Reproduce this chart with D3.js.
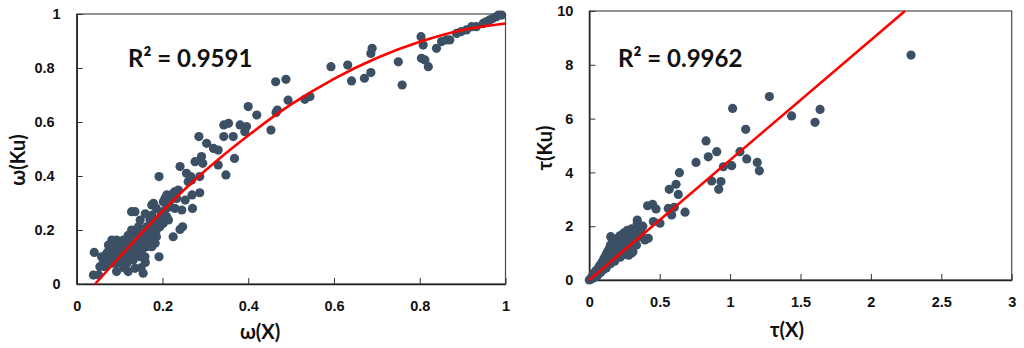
<!DOCTYPE html>
<html>
<head>
<meta charset="utf-8">
<script src="https://cdn.jsdelivr.net/npm/d3@7"></script>
<style>
  body { margin: 0; background: #fff; }
  svg { display: block; }
</style>
</head>
<body>
<div id="chart"></div>
<script>
// ω panel: scattered points (ω(X), ω(Ku))
const omegaPoints = [
  [0.041,0.117],[0.039,0.033],[0.051,0.033],[0.062,0.089],[0.058,0.101],[0.070,0.114],[0.078,0.107],
  [0.082,0.163],[0.093,0.163],[0.089,0.132],[0.097,0.138],[0.101,0.114],[0.085,0.077],[0.093,0.046],
  [0.105,0.077],[0.113,0.095],[0.117,0.151],[0.120,0.114],[0.124,0.138],[0.132,0.188],[0.128,0.200],
  [0.140,0.188],[0.144,0.212],[0.148,0.237],[0.136,0.126],[0.144,0.114],[0.148,0.101],[0.159,0.101],
  [0.155,0.040],[0.136,0.058],[0.120,0.046],[0.128,0.268],[0.136,0.268],[0.163,0.163],[0.167,0.188],
  [0.175,0.200],[0.179,0.225],[0.171,0.237],[0.163,0.212],[0.175,0.138],[0.183,0.151],[0.186,0.175],
  [0.179,0.299],[0.175,0.293],[0.192,0.398],[0.192,0.101],[0.194,0.212],[0.202,0.225],[0.210,0.249],
  [0.214,0.237],[0.202,0.305],[0.210,0.330],[0.218,0.311],[0.225,0.336],[0.218,0.286],[0.229,0.280],
  [0.237,0.348],[0.241,0.435],[0.247,0.212],[0.241,0.202],[0.253,0.311],[0.225,0.175],[0.245,0.274],
  [0.256,0.410],[0.260,0.379],[0.268,0.385],[0.266,0.398],[0.270,0.280],[0.269,0.330],[0.287,0.338],
  [0.287,0.398],[0.291,0.472],[0.294,0.447],[0.276,0.453],[0.285,0.546],[0.303,0.521],[0.319,0.502],
  [0.330,0.496],[0.330,0.441],[0.343,0.546],[0.343,0.589],[0.354,0.595],[0.365,0.546],[0.368,0.465],
  [0.348,0.404],[0.381,0.589],[0.392,0.564],[0.396,0.583],[0.400,0.657],[0.420,0.626],[0.453,0.570],
  [0.465,0.635],[0.468,0.644],[0.464,0.749],[0.488,0.758],[0.493,0.681],[0.532,0.684],[0.544,0.694],
  [0.593,0.805],[0.632,0.811],[0.641,0.752],[0.671,0.762],[0.686,0.783],[0.686,0.854],[0.689,0.873],
  [0.750,0.823],[0.759,0.737],[0.803,0.916],[0.808,0.885],[0.804,0.836],[0.812,0.830],[0.820,0.805],
  [0.839,0.873],[0.851,0.898],[0.862,0.904],[0.870,0.904],[0.886,0.928],[0.897,0.935],[0.909,0.941],
  [0.921,0.953],[0.932,0.953],[0.948,0.965],[0.956,0.972],[0.963,0.978],[0.971,0.984],[0.979,0.990],
  [0.984,0.996],[0.991,0.996],
  [0.054,0.064],[0.066,0.064],[0.074,0.077],[0.078,0.138],[0.109,0.163],[0.105,0.126],[0.128,0.101],
  [0.117,0.077],[0.132,0.089],[0.148,0.163],[0.155,0.188],[0.163,0.138],[0.124,0.163],[0.074,0.144],
  [0.085,0.107],[0.093,0.077],[0.097,0.095],[0.109,0.138],[0.113,0.132],[0.140,0.151],[0.152,0.126],
  [0.159,0.144],[0.167,0.151],[0.171,0.175],[0.183,0.225],[0.186,0.200],[0.194,0.237],[0.198,0.262],
  [0.206,0.274],[0.214,0.299],[0.222,0.324],[0.233,0.317],[0.229,0.342],[0.206,0.317],[0.160,0.260],
  [0.176,0.255],[0.186,0.280],[0.144,0.175],[0.120,0.180],[0.100,0.100],[0.066,0.100],[0.074,0.120],
  [0.150,0.060],[0.160,0.080],[0.110,0.060]
];
// ω panel: fitted curve
const omegaFitX = [0.043, 0.1, 0.2, 0.3, 0.4, 0.5, 0.6, 0.7, 0.8, 0.9, 1.0];
const omegaFitY = [0, 0.10, 0.27, 0.42, 0.55, 0.665, 0.76, 0.837, 0.897, 0.941, 0.965];

// τ panel: scattered points (τ(X), τ(Ku))
const tauPoints = [
  [2.285,8.36],[1.279,6.82],[1.018,6.38],[1.639,6.34],[1.437,6.10],[1.603,5.86],[1.111,5.60],
  [0.829,5.17],[0.905,4.77],[0.845,4.58],[1.070,4.77],[1.118,4.50],[1.193,4.37],[1.208,4.06],
  [1.011,4.25],[0.952,4.21],[0.758,4.37],[0.640,3.99],[0.869,3.68],[0.935,3.66],[0.919,3.37],
  [0.616,3.56],[0.568,3.37],[0.632,3.18],[0.414,2.76],[0.450,2.81],[0.474,2.64],[0.561,2.66],
  [0.604,2.70],[0.585,2.42],[0.680,2.52],[0.502,2.11],[0.455,2.17],[0.419,1.55],[0.395,1.49],
  [0.341,2.23],[0.360,2.01],[0.152,1.61],
  [0.00,0.00],[0.01,0.03],[0.015,0.08],[0.02,0.05],[0.02,0.12],[0.025,0.15],[0.03,0.10],[0.03,0.20],
  [0.035,0.25],[0.04,0.15],[0.04,0.30],[0.045,0.22],[0.05,0.35],[0.05,0.20],[0.055,0.30],[0.06,0.40],
  [0.06,0.25],[0.065,0.45],[0.07,0.33],[0.07,0.50],[0.075,0.28],[0.08,0.42],[0.08,0.58],[0.085,0.35],
  [0.09,0.50],[0.09,0.65],[0.095,0.40],[0.10,0.55],[0.10,0.75],[0.105,0.45],[0.11,0.62],[0.11,0.85],
  [0.115,0.50],[0.12,0.70],[0.12,0.95],[0.125,0.58],[0.13,0.80],[0.13,1.05],[0.135,0.65],[0.14,0.90],
  [0.14,1.15],[0.145,0.72],[0.15,1.00],[0.15,1.30],[0.155,0.80],[0.16,1.10],[0.165,1.40],[0.17,0.90],
  [0.175,1.20],[0.18,1.00],[0.18,1.45],[0.19,1.30],[0.19,0.95],[0.20,1.15],[0.20,1.55],[0.21,1.40],
  [0.215,1.05],[0.22,1.25],[0.22,1.65],[0.23,1.50],[0.235,1.10],[0.24,1.35],[0.245,1.75],[0.25,1.60],
  [0.255,1.20],[0.26,1.45],[0.27,1.85],[0.27,1.00],[0.28,1.70],[0.28,1.30],[0.29,1.55],[0.30,1.90],
  [0.30,1.20],[0.31,1.65],[0.32,1.45],[0.33,1.80],[0.335,1.30],[0.34,2.10],[0.35,1.60],[0.36,1.85],
  [0.37,1.75],[0.38,2.00],[0.30,1.00],[0.25,0.95],[0.22,0.85],[0.18,0.70],[0.15,0.60],[0.12,0.45],
  [0.10,0.38],[0.08,0.28],[0.06,0.18],[0.04,0.10],[0.26,1.10],[0.28,0.92],[0.31,1.05]
];
// τ panel: linear fit, end points
const tauFitX = [0, 2.242];
const tauFitY = [0, 10];

const omegaTicksX = [0, 0.2, 0.4, 0.6, 0.8, 1];
const omegaTicksY = [0, 0.2, 0.4, 0.6, 0.8, 1];
const tauTicksX = [0, 0.5, 1, 1.5, 2, 2.5, 3];
const tauTicksY = [0, 2, 4, 6, 8, 10];

const width = 1024, height = 348;
const dotColor = "#3c5065";
const lineColor = "#ff0000";
const font = "Lato, 'Open Sans', sans-serif";

const svg = d3.select("#chart").append("svg")
  .attr("width", width)
  .attr("height", height)
  .style("background", "#fff")
  .style("font-family", font);

function panel(opts) {
  const x = d3.scaleLinear(opts.xDomain, opts.xRange);
  const y = d3.scaleLinear(opts.yDomain, opts.yRange);
  const g = svg.append("g");

  // plot frame
  g.append("rect")
    .attr("x", opts.xRange[0]).attr("y", opts.yRange[1])
    .attr("width", opts.xRange[1] - opts.xRange[0])
    .attr("height", opts.yRange[0] - opts.yRange[1])
    .attr("fill", "none")
    .attr("stroke", "#4a4a4a")
    .attr("stroke-width", 1.2);

  const fmt = d => String(d);

  g.append("g")
    .attr("transform", `translate(0,${opts.yRange[0]})`)
    .call(d3.axisBottom(x).tickValues(opts.xTicks).tickFormat(fmt)
      .tickSizeInner(-6).tickSizeOuter(0).tickPadding(17))
    .call(a => a.select(".domain").attr("stroke", "#222").attr("stroke-width", 1.5))
    .call(a => a.selectAll(".tick line").attr("stroke", "#333"))
    .call(a => a.selectAll("text").attr("font-size", 14.5).attr("font-weight", 700).attr("fill", "#111"));

  g.append("g")
    .attr("transform", `translate(${opts.xRange[0]},0)`)
    .call(d3.axisLeft(y).tickValues(opts.yTicks).tickFormat(fmt)
      .tickSizeInner(-6).tickSizeOuter(0).tickPadding(16))
    .call(a => a.select(".domain").attr("stroke", "#222").attr("stroke-width", 1.5))
    .call(a => a.selectAll(".tick line").attr("stroke", "#333"))
    .call(a => a.selectAll("text").attr("font-size", 14.5).attr("font-weight", 700).attr("fill", "#111")
      .attr("x", d => Number.isInteger(d) ? -16 : opts.decPad));

  g.append("g").selectAll("circle")
    .data(opts.points)
    .join("circle")
    .attr("cx", d => x(d[0]))
    .attr("cy", d => y(d[1]))
    .attr("r", 4.6)
    .attr("fill", dotColor);

  const fit = d3.zip(opts.fitX, opts.fitY);
  g.append("path")
    .datum(fit)
    .attr("fill", "none")
    .attr("stroke", lineColor)
    .attr("stroke-width", 2.6)
    .attr("d", d3.line(d => x(d[0]), d => y(d[1])).curve(d3.curveMonotoneX));

  g.append("text")
    .attr("x", opts.r2Pos[0]).attr("y", opts.r2Pos[1])
    .attr("font-size", 24).attr("font-weight", 700).attr("fill", "#111")
    .text(opts.r2);

  g.append("text")
    .attr("x", opts.xTitlePos[0]).attr("y", opts.xTitlePos[1])
    .attr("text-anchor", "middle").attr("dominant-baseline", "central")
    .attr("font-size", 20).attr("font-weight", 700).attr("fill", "#111")
    .text(opts.xTitle);

  g.append("text")
    .attr("transform", `translate(${opts.yTitlePos[0]},${opts.yTitlePos[1]}) rotate(-90)`)
    .attr("text-anchor", "middle").attr("dominant-baseline", "central")
    .attr("font-size", 20).attr("font-weight", 700).attr("fill", "#111")
    .text(opts.yTitle);
}

panel({
  xDomain: [0, 1], xRange: [76.7, 505.5],
  yDomain: [0, 1], yRange: [284, 14],
  xTicks: omegaTicksX, yTicks: omegaTicksY, decPad: -22,
  points: omegaPoints, fitX: omegaFitX, fitY: omegaFitY,
  r2: "R² = 0.9591", r2Pos: [128, 67],
  xTitle: "ω(X)", xTitlePos: [260, 331],
  yTitle: "ω(Ku)", yTitlePos: [17, 160]
});

panel({
  xDomain: [0, 3], xRange: [589.3, 1011.7],
  yDomain: [0, 10], yRange: [280, 11],
  xTicks: tauTicksX, yTicks: tauTicksY, decPad: -16,
  points: tauPoints, fitX: tauFitX, fitY: tauFitY,
  r2: "R² = 0.9962", r2Pos: [618, 67],
  xTitle: "τ(X)", xTitlePos: [787, 329],
  yTitle: "τ(Ku)", yTitlePos: [544, 148]
});
</script>
</body>
</html>
